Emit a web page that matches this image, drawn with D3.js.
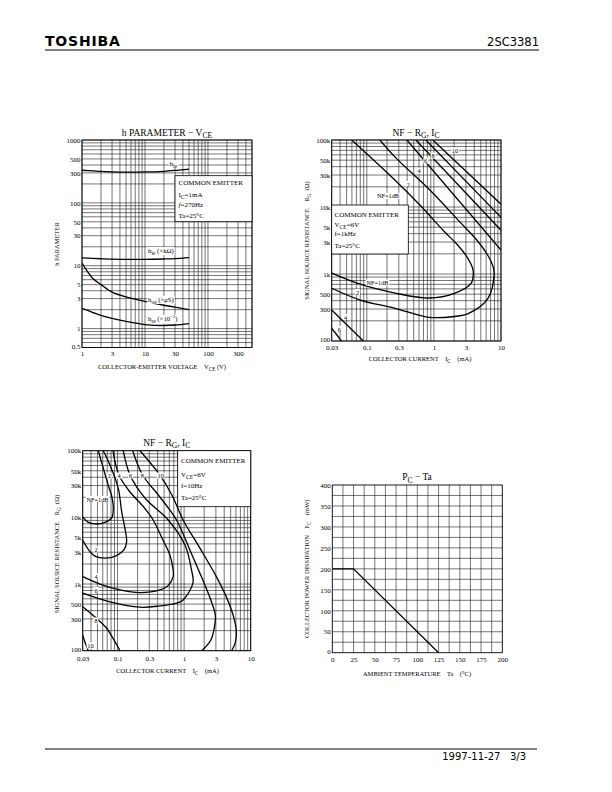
<!DOCTYPE html>
<html><head><meta charset="utf-8">
<script src="https://cdn.jsdelivr.net/npm/d3@7"></script>
<style>body{margin:0;background:#fff}svg{display:block}text{white-space:pre}</style>
</head><body>
<script>
// ---------------- DATA ----------------
// Chart 1: h parameter vs VCE (IC=1mA, f=270Hz)
const vceTicks = [1, 3, 10, 30, 100, 300];
const hTicks = [0.5, 1, 3, 5, 10, 30, 50, 100, 300, 500, 1000];
const hfe = [[1,330],[1.5,322],[2,316],[3,311],[5,308],[10,310],[20,318],[30,328],[50,345]];
const hie = [[1,13.3],[2,12.9],[3,12.7],[5,12.6],[10,12.6],[20,12.8],[30,13.0],[50,13.5]];
const hoe = [[1,11],[1.2,8.3],[1.5,6.2],[2,5.0],[3,3.8],[5,3.2],[10,2.7],[20,2.35],[30,2.2],[50,2.0]];
const hre = [[1,2.1],[1.5,1.8],[2,1.62],[3,1.45],[5,1.3],[10,1.16],[20,1.12],[30,1.14],[50,1.2]];

// Shared tick labels for NF charts
const icTicks = [0.03, 0.1, 0.3, 1, 3, 10];
const icTickText = ["0.03", "0.1", "0.3", "1", "3", "10"];
const rgTicks = [100, 300, 500, 1000, 3000, 5000, 10000, 30000, 50000, 100000];
const rgTickText = ["100", "300", "500", "1k", "3k", "5k", "10k", "30k", "50k", "100k"];

// Chart 2: NF contours, f = 1kHz  ([IC mA, RG ohm])
const nf1k_1 = [[0.0596,100000],[0.262,25300],[0.618,10700],[1.46,4200],[2.26,2710],[3.19,1730],[3.75,1250],[3.87,1030],[3.6,733],[2.07,520],[0.83,438],[0.264,520],[0.084,692],[0.03,1030]];
const nf1k_2 = [[0.157,100000],[0.262,56000],[0.87,17900],[2.43,6000],[4.35,3220],[6.33,1920],[7.6,1300],[7.9,1000],[6.4,434],[3.3,259],[2.0,232],[0.83,226],[0.264,308],[0.08,409],[0.03,613]];
const nf1k_4 = [[0.396,100000],[10,2280]];
const nf1k_4b = [[0.03,290],[0.089,100]];
const nf1k_6 = [[0.539,100000],[10,4500]];
const nf1k_6b = [[0.03,155],[0.042,100]];
const nf1k_8 = [[0.759,100000],[10,7000]];
const nf1k_10 = [[0.964,100000],[10,11000]];

// Chart 3: NF contours, f = 10Hz
const nf10_1 = [[0.0514,100000],[0.0604,57000],[0.0724,30600],[0.0824,20200],[0.0864,13800],[0.0818,9800],[0.0648,8400],[0.0459,7960],[0.036,8500],[0.03,10200]];
const nf10_2 = [[0.0611,100000],[0.077,61000],[0.1026,27300],[0.1154,12200],[0.129,6900],[0.137,4330],[0.1247,3240],[0.0971,2670],[0.0648,2440],[0.0432,2730],[0.03,4580]];
const nf10_4 = [[0.0853,100000],[0.105,43200],[0.154,24000],[0.24,14800],[0.343,9140],[0.48,4580],[0.611,2730],[0.677,1740],[0.684,1280],[0.57,938],[0.433,815],[0.217,743],[0.109,815],[0.0545,1000],[0.03,1290]];
const nf10_6 = [[0.122,100000],[0.154,43200],[0.258,19500],[0.576,9140],[1.03,3860],[1.29,1630],[1.36,1040],[0.966,577],[0.769,516],[0.433,470],[0.217,449],[0.077,540],[0.03,728]];
const nf10_8 = [[0.169,100000],[0.238,43200],[0.433,20200],[0.769,9140],[1.22,3240],[1.91,1150],[2.52,577],[2.94,344],[2.89,244],[2.52,145],[1.84,100]];
const nf10_8b = [[0.03,458],[0.0475,311],[0.0687,217],[0.0883,145],[0.109,100]];
const nf10_10 = [[0.217,100000],[0.433,43200],[0.655,21700],[0.966,9140],[1.72,3480],[3.05,1290],[4.37,620],[5.54,321],[6.1,191],[5.85,131],[5.18,100]];
const nf10_10b = [[0.03,173],[0.0324,135],[0.0364,100]];

// Chart 4: PC - Ta
const taTicks = [0, 25, 50, 75, 100, 125, 150, 175, 200];
const pcTicks = [0, 50, 100, 150, 200, 250, 300, 350, 400];
const pcDerating = [[0,200],[25,200],[125,0]];

// ---------------- DRAWING ----------------
const SERIF = "'Liberation Serif','Times New Roman',serif";
const SANS = "'DejaVu Sans','Noto Sans',sans-serif";
const svg = d3.select("body").append("svg").attr("width",612).attr("height",792);

function rich(g, x, y, parts, o = {}) {
  if (!Array.isArray(parts)) parts = [parts];
  const size = o.size || 6.5;
  const t = g.append("text").attr("x", x).attr("y", y)
    .attr("font-family", o.family || SERIF).attr("font-size", size)
    .attr("text-anchor", o.anchor || "start").attr("fill", "#000");
  if (o.rotate) t.attr("transform", `rotate(-90 ${x} ${y})`);
  if (o.spacing) t.attr("letter-spacing", o.spacing);
  let shift = 0;
  parts.forEach(p => {
    const [s, kind] = Array.isArray(p) ? p : [p, null];
    const ts = t.append("tspan").text(s);
    let target = 0;
    if (kind === "sub") { target = size * 0.3; ts.attr("font-size", size * 0.8); }
    if (kind === "sup") { target = -size * 0.4; ts.attr("font-size", size * 0.7); }
    if (kind === "it") ts.attr("font-style", "italic");
    if (target !== shift) { ts.attr("dy", target - shift); shift = target; }
  });
  return t;
}
function boxed(g, x, y, parts, o = {}) {
  const t = rich(g, x, y, parts, o);
  const b = t.node().getBBox();
  g.insert("rect", () => t.node()).attr("x", b.x - 0.8).attr("y", b.y + 0.5)
    .attr("width", b.width + 1.6).attr("height", b.height - 1).attr("fill", "#fff");
  return t;
}
function logGrid(lo, hi) {
  const out = [];
  for (let e = Math.floor(Math.log10(lo)) - 1; e <= Math.ceil(Math.log10(hi)); e++)
    for (let m = 1; m < 10; m++) { const v = m * Math.pow(10, e); if (v >= lo * 0.999 && v <= hi * 1.001) out.push(+v.toPrecision(3)); }
  return out;
}
let clipId = 0;
function panel(p) {
  const g = svg.append("g");
  const x = (p.xlog ? d3.scaleLog() : d3.scaleLinear()).domain(p.xd).range([p.x0, p.x1]);
  const y = (p.ylog ? d3.scaleLog() : d3.scaleLinear()).domain(p.yd).range([p.y1, p.y0]);
  g.append("g").selectAll("line").data(p.xgrid).join("line")
    .attr("x1", d => x(d)).attr("x2", d => x(d)).attr("y1", p.y0).attr("y2", p.y1)
    .attr("stroke", "#1a1a1a").attr("stroke-width", 0.6);
  g.append("g").selectAll("line").data(p.ygrid).join("line")
    .attr("y1", d => y(d)).attr("y2", d => y(d)).attr("x1", p.x0).attr("x2", p.x1)
    .attr("stroke", "#1a1a1a").attr("stroke-width", 0.6);
  g.append("rect").attr("x", p.x0).attr("y", p.y0).attr("width", p.x1 - p.x0).attr("height", p.y1 - p.y0)
    .attr("fill", "none").attr("stroke", "#000").attr("stroke-width", 0.9);
  const ax = g.append("g").attr("transform", `translate(0,${p.y1})`)
    .call(d3.axisBottom(x).tickValues(p.xticks).tickFormat((d, i) => p.xtext[i]).tickSize(0).tickPadding(p.xpad || 4.5));
  const ay = g.append("g").attr("transform", `translate(${p.x0},0)`)
    .call(d3.axisLeft(y).tickValues(p.yticks).tickFormat((d, i) => p.ytext[i]).tickSize(0).tickPadding(1.5));
  [ax, ay].forEach(a => { a.select(".domain").remove(); a.selectAll("text").attr("font-family", SERIF).attr("font-size", 7).attr("fill", "#000"); });
  // nudge the lowest y label up a touch so it clears the first x label
  ay.selectAll(".tick").filter((d, i) => i === 0).select("text").attr("dy", "0.1em");
  const id = "clip" + (clipId++);
  svg.append("clipPath").attr("id", id).append("rect").attr("x", p.x0).attr("y", p.y0).attr("width", p.x1 - p.x0).attr("height", p.y1 - p.y0);
  const cg = g.append("g").attr("clip-path", `url(#${id})`);
  return { g, x, y, cg };
}
function curve(P, data, smooth = true) {
  const line = d3.line().x(d => P.x(d[0])).y(d => P.y(d[1]));
  if (smooth) line.curve(d3.curveCatmullRom.alpha(0.5));
  P.cg.append("path").attr("d", line(data)).attr("fill", "none").attr("stroke", "#000").attr("stroke-width", 1.3);
}
function legend(g, x0, y0, x1, y1, lines, tx, bys, size) {
  g.append("rect").attr("x", x0).attr("y", y0).attr("width", x1 - x0).attr("height", y1 - y0)
    .attr("fill", "#fff").attr("stroke", "#000").attr("stroke-width", 0.8);
  lines.forEach((l, i) => rich(g, tx, bys[i], l, { size: size }));
}

// Header / footer
svg.append("text").attr("x", 45).attr("y", 46).attr("font-family", SANS).attr("font-weight", "bold")
  .attr("font-size", 14).attr("letter-spacing", 0.8).text("TOSHIBA");
svg.append("text").attr("x", 539).attr("y", 46).attr("text-anchor", "end").attr("font-family", SANS)
  .attr("font-size", 11.5).text("2SC3381");
svg.append("line").attr("x1", 45).attr("x2", 539).attr("y1", 50).attr("y2", 50).attr("stroke", "#000").attr("stroke-width", 1);
svg.append("line").attr("x1", 45).attr("x2", 537).attr("y1", 749).attr("y2", 749).attr("stroke", "#000").attr("stroke-width", 1);
svg.append("text").attr("x", 526).attr("y", 760).attr("text-anchor", "end").attr("font-family", SANS)
  .attr("font-size", 10).text("1997-11-27   3/3");

// ---- Chart 1 ----
const c1 = panel({ x0: 82, x1: 252, y0: 140, y1: 347.5, xlog: true, ylog: true, xd: [1, 500], yd: [0.5, 1000], xpad: 3.5,
  xgrid: logGrid(1, 500), ygrid: logGrid(0.5, 1000), xticks: vceTicks, xtext: vceTicks.map(String), yticks: hTicks, ytext: hTicks.map(String) });
[hfe, hie, hoe, hre].forEach(s => curve(c1, s));
legend(c1.g, 175, 175.7, 252, 221.7, ["COMMON EMITTER", ["I", ["C", "sub"], "=1mA"], [["f", "it"], "=270Hz"], "Ta=25°C"], 178.5, [185.3, 196.5, 207.3, 218.3], 7);
boxed(c1.g, 169.5, 165.5, ["h", ["fe", "sub"]], { size: 7 });
boxed(c1.g, 148, 252.5, ["h", ["ie", "sub"], " (×kΩ)"], { size: 6.8 });
boxed(c1.g, 148, 301.5, ["h", ["oe", "sub"], " (×", ["μ", "it"], "S)"], { size: 6.8 });
boxed(c1.g, 148, 321, ["h", ["re", "sub"], " (×10", ["−5", "sup"], ")"], { size: 6.8 });
rich(svg, 167, 135.5, ["h PARAMETER − V", ["CE", "sub"]], { size: 9.5, anchor: "middle" });
rich(svg, 59, 244, ["h PARAMETER"], { size: 6.5, anchor: "middle", rotate: true });
rich(svg, 162, 369, ["COLLECTOR-EMITTER VOLTAGE    V", ["CE", "sub"], " (V)"], { size: 6.5, anchor: "middle" });

// ---- Chart 2 ----
const c2 = panel({ x0: 331.7, x1: 501, y0: 140, y1: 341, xlog: true, ylog: true, xd: [0.03, 10], yd: [100, 100000],
  xgrid: logGrid(0.03, 10), ygrid: logGrid(100, 100000), xticks: icTicks, xtext: icTickText, yticks: rgTicks, ytext: rgTickText });
[nf1k_1, nf1k_2, nf1k_4, nf1k_4b, nf1k_6, nf1k_6b, nf1k_8, nf1k_10].forEach(s => curve(c2, s));
legend(c2.g, 331.7, 205, 408.3, 254, ["COMMON EMITTER", ["V", ["CE", "sub"], "=6V"], "f=1kHz", "Ta=25°C"], 334.5, [216.5, 226.5, 235.5, 248], 7);
boxed(c2.g, 388, 198.3, ["NF=1dB"], { anchor: "middle", size: 6.3 });
boxed(c2.g, 408.3, 186.5, ["2"], { anchor: "middle", size: 6.3 });
boxed(c2.g, 419, 173.3, ["4"], { anchor: "middle", size: 6.3 });
boxed(c2.g, 425.7, 163, ["6"], { anchor: "middle", size: 6.3 });
boxed(c2.g, 433, 158.3, ["8"], { anchor: "middle", size: 6.3 });
boxed(c2.g, 455, 153, ["10"], { anchor: "middle", size: 6.3 });
boxed(c2.g, 377.5, 285, ["NF=1dB"], { anchor: "middle", size: 6.3 });
boxed(c2.g, 357.7, 294.5, ["2"], { anchor: "middle", size: 6.3 });
boxed(c2.g, 345.7, 319.5, ["4"], { anchor: "middle", size: 6.3 });
boxed(c2.g, 339.3, 331.5, ["6"], { anchor: "middle", size: 6.3 });
rich(svg, 416, 135.5, ["NF − R", ["G", "sub"], ", I", ["C", "sub"]], { size: 9.5, anchor: "middle" });
rich(svg, 309, 240.5, ["SIGNAL SOURCE RESISTANCE    R", ["G", "sub"], "  (Ω)"], { size: 6.5, anchor: "middle", rotate: true });
rich(svg, 420, 361, ["COLLECTOR CURRENT    I", ["C", "sub"], "    (mA)"], { size: 6.5, anchor: "middle" });

// ---- Chart 3 ----
const c3 = panel({ x0: 82.7, x1: 250.7, y0: 450.7, y1: 650.7, xlog: true, ylog: true, xd: [0.03, 10], yd: [100, 100000], xpad: 5,
  xgrid: logGrid(0.03, 10), ygrid: logGrid(100, 100000), xticks: icTicks, xtext: icTickText, yticks: rgTicks, ytext: rgTickText });
[nf10_1, nf10_2, nf10_4, nf10_6, nf10_8, nf10_8b, nf10_10, nf10_10b].forEach(s => curve(c3, s));
legend(c3.g, 177.7, 450.7, 250.7, 506.7, ["COMMON EMITTER", ["V", ["CE", "sub"], "=6V"], "f=10Hz", "Ta=25°C"], 181, [463.3, 476.5, 487.5, 499.5], 7);
boxed(c3.g, 97.5, 501.5, ["NF=1dB"], { anchor: "middle", size: 6.3 });
[["2", 109.3], ["4", 119], ["6", 130.7], ["8", 142.3], ["10", 160.7]].forEach(([s, xx]) => boxed(c3.g, xx, 478, [s], { anchor: "middle", size: 6.3 }));
boxed(c3.g, 96, 552, ["2"], { anchor: "middle", size: 6.3 });
boxed(c3.g, 96, 578.5, ["4"], { anchor: "middle", size: 6.3 });
boxed(c3.g, 96, 592.5, ["6"], { anchor: "middle", size: 6.3 });
boxed(c3.g, 96, 623, ["8"], { anchor: "middle", size: 6.3 });
boxed(c3.g, 90.5, 648, ["10"], { anchor: "middle", size: 6.3 });
rich(svg, 166.7, 445.5, ["NF − R", ["G", "sub"], ", I", ["C", "sub"]], { size: 9.5, anchor: "middle" });
rich(svg, 59, 554, ["SIGNAL SOURCE RESISTANCE    R", ["G", "sub"], "  (Ω)"], { size: 6.5, anchor: "middle", rotate: true });
rich(svg, 167.5, 673, ["COLLECTOR CURRENT    I", ["C", "sub"], "    (mA)"], { size: 6.5, anchor: "middle" });

// ---- Chart 4 ----
const c4 = panel({ x0: 332.3, x1: 502.3, y0: 485, y1: 652.7, xlog: false, ylog: false, xd: [0, 200], yd: [0, 400], xpad: 4,
  xgrid: d3.range(12.5, 200, 12.5), ygrid: d3.range(25, 400, 25), xticks: taTicks, xtext: taTicks.map(String), yticks: pcTicks, ytext: pcTicks.map(String) });
curve(c4, pcDerating, false);
rich(svg, 417, 480, ["P", ["C", "sub"], " − Ta"], { size: 9.5, anchor: "middle" });
rich(svg, 309, 568.8, ["COLLECTOR POWER DISSIPATION    P", ["C", "sub"], "    (mW)"], { size: 6.5, anchor: "middle", rotate: true });
rich(svg, 417, 676, ["AMBIENT TEMPERATURE    Ta    (°C)"], { size: 6.5, anchor: "middle" });
</script>
</body></html>
